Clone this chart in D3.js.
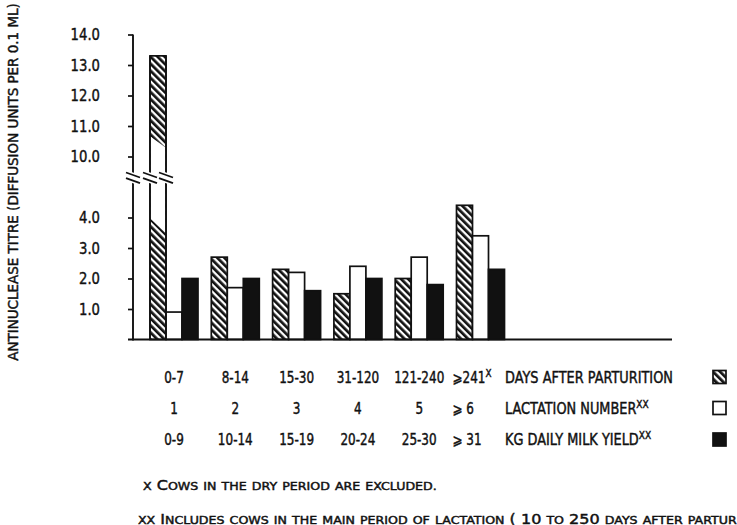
<!DOCTYPE html>
<html><head><meta charset="utf-8">
<script src="https://cdn.jsdelivr.net/npm/d3@7"></script>
<style>
html,body{margin:0;padding:0;background:#fff;}
svg{display:block;}
text{font-family:"DejaVu Sans",sans-serif;fill:#111;stroke:#111;stroke-width:0.45px;}
</style></head><body>
<svg id="chart" width="737" height="525"></svg>
<script>
// ---------- data ----------
const categories = ["0-7", "8-14", "15-30", "31-120", "121-240", "⩾241"];
const daysLabels = ["0-7", "8-14", "15-30", "31-120", "121-240", "⩾241"];
const lactationLabels = ["1", "2", "3", "4", "5", "⩾ 6"];
const milkLabels = ["0-9", "10-14", "15-19", "20-24", "25-30", "⩾ 31"];
const seriesKeys = ["days", "lactation", "milk"];
const seriesNames = ["DAYS AFTER PARTURITION", "LACTATION NUMBER", "KG DAILY MILK YIELD"];
const seriesSup = ["", "XX", "XX"];
const daysValues = [13.3, 2.7, 2.3, 1.5, 2.0, 4.4];
const lactationValues = [0.9, 1.7, 2.2, 2.4, 2.7, 3.4];
const milkValues = [2.0, 2.0, 1.6, 2.0, 1.8, 2.3];
const yTicks = [1, 2, 3, 4, 10, 11, 12, 13, 14];
const yTickLabels = ["1.0", "2.0", "3.0", "4.0", "10.0", "11.0", "12.0", "13.0", "14.0"];
const breakLow = 5.3, breakHigh = 9.3;   // axis break
const footnotes = ["x Cows in the dry period are excluded.",
  "xx Includes cows in the main period of lactation ( 10 to 250 days after parturition )"];

const valuesBy = {days: daysValues, lactation: lactationValues, milk: milkValues};
const rows = [daysLabels, lactationLabels, milkLabels];

// ---------- layout ----------
const svg = d3.select("#chart");
const axisX = 133, y0 = 339.5, yTop = 34.5;
const unit = (y0 - yTop) / (14 - (breakHigh - breakLow));
const yBreakPix = y0 - unit * breakLow;
const y = d3.scaleLinear()
  .domain([0, breakLow, breakHigh, 14])
  .range([y0, yBreakPix, yBreakPix, yTop]);

const x = d3.scaleBand().domain(categories).range([150, 504.5]).paddingInner(0.217).paddingOuter(0);
const xs = d3.scaleBand().domain(seriesKeys).range([0, x.bandwidth()]);

// hatch pattern
const defs = svg.append("defs");
const pat = defs.append("pattern").attr("id", "hatch")
  .attr("patternUnits", "userSpaceOnUse").attr("width", 5).attr("height", 5)
  .attr("patternTransform", "rotate(-45)");
pat.append("rect").attr("width", 5).attr("height", 5).attr("fill", "#fff");
pat.append("rect").attr("width", 2.7).attr("height", 5).attr("fill", "#111");
const fills = {days: "url(#hatch)", lactation: "#fff", milk: "#111"};

function label(parent, px, py, txt, o = {}) {
  const t = parent.append("text")
    .attr("transform", `translate(${px},${py})${o.rot ? ` rotate(${o.rot})` : ""} scale(${o.sx || 1},1)`)
    .attr("text-anchor", o.anchor || "start")
    .style("font-size", (o.size || 14) + "px")
    .text(txt);
  if (o.dy) t.attr("dy", o.dy);
  if (o.sup) t.append("tspan").attr("dy", -6).style("font-size", (o.supSize || 10) + "px").text(o.sup);
  return t;
}

// text with hand-made small capitals: capitals, digits and punctuation big, lower-case letters as small capitals
function smallCapsText(parent, px, py, txt, big, small) {
  const t = parent.append("text").attr("transform", `translate(${px},${py})`);
  const parts = txt.match(/[a-z.,]+|[^a-z.,]+/g);
  parts.forEach(p => {
    const isSmall = /[a-z.,]/.test(p[0]);
    t.append("tspan").style("font-size", (isSmall ? small : big) + "px").text(p.toUpperCase());
  });
  return t;
}

// bars
const gBars = svg.append("g");
categories.forEach((c, i) => {
  seriesKeys.forEach(k => {
    const v = valuesBy[k][i];
    gBars.append("rect")
      .attr("x", x(c) + xs(k)).attr("y", y(v))
      .attr("width", xs.bandwidth()).attr("height", y0 - y(v))
      .attr("fill", fills[k]).attr("stroke", "#111").attr("stroke-width", 1.7);
  });
});

// break on the tall first bar: white gap between slanted cuts
{
  const c = categories[0], k = "days";
  const bx = x(c) + xs(k), bw = xs.bandwidth();
  const cutTop = [10.65, 10.3], cutBot = [3.95, 3.5];
  const pts = [[bx + 0.8, y(cutTop[0])], [bx + bw - 0.8, y(cutTop[1])],
               [bx + bw - 0.8, y(cutBot[1])], [bx + 0.8, y(cutBot[0])]];
  gBars.append("polygon").attr("points", pts.map(p => p.join(",")).join(" ")).attr("fill", "#fff");
  gBars.append("line").attr("x1", bx).attr("x2", bx).attr("y1", y(daysValues[0])).attr("y2", y0).attr("stroke", "#111").attr("stroke-width", 1.7);
  gBars.append("line").attr("x1", bx + bw).attr("x2", bx + bw).attr("y1", y(daysValues[0])).attr("y2", y0).attr("stroke", "#111").attr("stroke-width", 1.7);
}

// axes
const gAxis = svg.append("g").attr("transform", `translate(${axisX},0)`);
gAxis.call(d3.axisLeft(y).tickValues(yTicks).tickSize(5).tickFormat(""));
gAxis.select(".domain").remove();
gAxis.selectAll(".tick line").attr("stroke", "#111").attr("stroke-width", 1.7);
svg.append("line").attr("x1", axisX).attr("x2", axisX).attr("y1", yTop).attr("y2", y0 + 1).attr("stroke", "#111").attr("stroke-width", 1.9);
svg.append("line").attr("x1", 128).attr("x2", 672).attr("y1", y0).attr("y2", y0).attr("stroke", "#111").attr("stroke-width", 1.9);

yTicks.forEach((t, i) => label(svg, 100, y(t), yTickLabels[i], {anchor: "end", size: 16.5, sx: 0.8, dy: "0.36em"}));

// break marks
{
  const xsMarks = [axisX, x(categories[0]) + xs("days"), x(categories[0]) + xs("days") + xs.bandwidth()];
  xsMarks.forEach(cx => {
    svg.append("rect").attr("x", cx - 4).attr("y", yBreakPix - 5).attr("width", 8).attr("height", 10)
      .attr("fill", "#fff").attr("transform", `rotate(20,${cx},${yBreakPix})`);
    [-2.8, 2.8].forEach(off => {
      svg.append("line")
        .attr("x1", cx - 7).attr("y1", yBreakPix + off - 2.5)
        .attr("x2", cx + 7).attr("y2", yBreakPix + off + 2.5)
        .attr("stroke", "#111").attr("stroke-width", 1.7);
    });
  });
}

// category rows + legend
const rowY = [382.5, 413.5, 445];
rows.forEach((labs, r) => {
  labs.forEach((t, i) => {
    const last = i === labs.length - 1;
    const sup = (r === 0 && last) ? "X" : null;
    const px = last ? x(categories[i]) - 4 : x(categories[i]) + x.bandwidth() / 2;
    label(svg, px, rowY[r], t, {anchor: last ? "start" : "middle", size: 15, sx: 0.8, sup: sup, supSize: 11});
  });
  label(svg, 505, rowY[r], seriesNames[r], {size: 15, sx: 0.86, sup: seriesSup[r] || null, supSize: 10.5});
  svg.append("rect").attr("x", 713).attr("y", rowY[r] - 12).attr("width", 13).attr("height", 13)
    .attr("fill", fills[seriesKeys[r]]).attr("stroke", "#111").attr("stroke-width", 1.7);
});

// y-axis title
{
  const t = label(svg, 18, 182, "ANTINUCLEASE TITRE (DIFFUSION UNITS PER 0.1 ML)", {anchor: "middle", size: 14.5, rot: -90});
  const w = t.node().getComputedTextLength();
  t.attr("transform", `translate(18,182) rotate(-90) scale(${358 / w},1)`);
}

// footnotes
{
  const f1 = smallCapsText(svg, 143, 490, footnotes[0], 14, 11);
  const s = 294 / f1.node().getComputedTextLength();
  f1.attr("transform", `translate(143,490) scale(${s},1)`);
  const f2 = smallCapsText(svg, 138, 523.5, footnotes[1], 14, 11);
  f2.attr("transform", `translate(138,523.5) scale(${s},1)`);
}
</script>
</body></html>
